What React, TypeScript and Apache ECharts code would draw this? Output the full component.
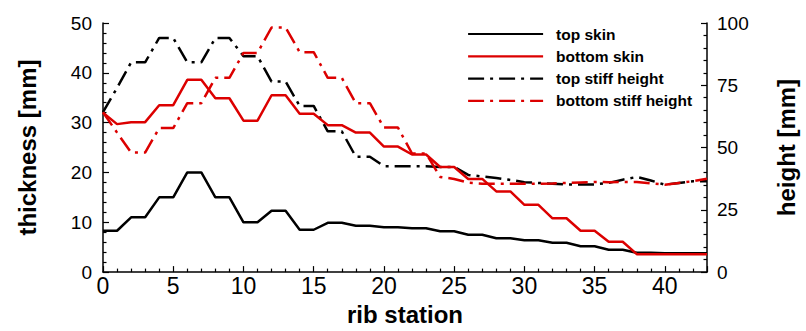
import React, { useEffect, useRef } from "react";
import * as echarts from "echarts";

const stations = [0,1,2,3,4,5,6,7,8,9,10,11,12,13,14,15,16,17,18,19,20,21,22,23,24,25,26,27,28,29,30,31,32,33,34,35,36,37,38,39,40,41,42,43];

const topSkin = [8.3,8.3,11,11,15,15,20,20,15,15,10,10,12.3,12.3,8.5,8.5,9.9,9.9,9.3,9.3,9.0,9.0,8.8,8.8,8.2,8.2,7.5,7.5,6.8,6.8,6.4,6.4,5.9,5.9,5.2,5.2,4.5,4.5,3.9,3.9,3.8,3.8,3.8,3.8];
const bottomSkin = [32,29.7,30.1,30.1,33.5,33.5,38.6,38.6,34.9,34.9,30.4,30.4,35.5,35.5,31.8,31.8,29.5,29.5,28,28,25.2,25.2,23.6,23.6,21.1,21.1,18.7,18.7,16.2,16.2,13.5,13.5,10.8,10.8,8.3,8.3,6.1,6.1,3.6,3.6,3.6,3.6,3.6,3.6];
const topStiffHeight = [64.2,74,84.2,84.2,94,94,84.2,84.2,94,94,86.7,86.7,76.5,76.5,66.7,66.7,56.5,56.5,46.3,46.3,42.5,42.5,42.5,42.5,42.2,42.2,39,38.4,37.8,37,36.1,35.8,35.5,35.2,35.2,35.2,35.8,37.1,38.2,36.8,35.1,35.8,36.5,36.5];
const bottomStiffHeight = [64.2,56,48,48,57.8,57.8,67.8,67.8,78,78,88,88,98.2,98.2,88.3,88.3,78,78,67.8,67.8,58,58,47.6,47.6,38.2,37.4,35.9,35.5,35.5,35.5,35.5,35.5,35.6,35.8,36,36.2,36.1,36.2,36.2,35.6,35.1,35.8,36.5,37.5];

const xTicks = { min: 0, max: 43, interval: 5 };
const leftTicks = { min: 0, max: 50, interval: 10 };
const rightTicks = { min: 0, max: 100, interval: 25 };

const FONT = "'Liberation Sans', Arial, Helvetica, sans-serif";
const RED = "#dc0000";
const DASHDOT = [16, 6, 3, 6];

export default function App() {
  const ref = useRef<HTMLDivElement>(null);
  useEffect(() => {
    if (!ref.current) return;
    const chart = echarts.init(ref.current, undefined, { renderer: "svg" });
    const pair = (arr: number[]) => stations.map((s, i) => [s, arr[i]]);
    const axisLine = { show: true, lineStyle: { color: "#000", width: 1.5 } };
    chart.setOption({
      animation: false,
      backgroundColor: "#fff",
      grid: { left: 103, right: 93, top: 23, bottom: 48, containLabel: false },
      legend: {
        left: 462,
        top: 21,
        orient: "vertical",
        itemWidth: 75,
        itemHeight: 14,
        itemGap: 6.3,
        itemStyle: { color: "rgba(0,0,0,0)", borderWidth: 0, opacity: 0 },
        lineStyle: { width: 2.2 },
        textStyle: { fontFamily: FONT, fontSize: 15.5, fontWeight: "bold", color: "#000", padding: [0, 0, 0, 8] },
        data: ["top skin", "bottom skin", "top stiff height", "bottom stiff height"],
      },
      xAxis: {
        type: "value",
        min: xTicks.min,
        max: xTicks.max,
        interval: xTicks.interval,
        name: "rib station",
        nameLocation: "middle",
        nameGap: 29,
        nameTextStyle: { fontFamily: FONT, fontSize: 24, fontWeight: "bold", color: "#000" },
        axisLine,
        axisTick: { show: true, inside: true, length: 6, lineStyle: { color: "#000", width: 1.2 } },
        minorTick: { show: true, splitNumber: 5, length: 3.5, lineStyle: { color: "#000", width: 1.2 } },
        axisLabel: { fontFamily: FONT, fontSize: 23, color: "#000", margin: 2, showMaxLabel: false },
        splitLine: { show: false },
      },
      yAxis: [
        {
          type: "value",
          position: "left",
          min: leftTicks.min,
          max: leftTicks.max,
          interval: leftTicks.interval,
          name: "thickness [mm]",
          nameLocation: "middle",
          nameGap: 64,
          nameTextStyle: { fontFamily: FONT, fontSize: 24, fontWeight: "bold", color: "#000" },
          axisLine,
          axisTick: { show: true, inside: true, length: 6, lineStyle: { color: "#000", width: 1.2 } },
          minorTick: { show: true, splitNumber: 5, length: 3.5, lineStyle: { color: "#000", width: 1.2 } },
          axisLabel: { fontFamily: FONT, fontSize: 19, color: "#000", margin: 11 },
          splitLine: { show: false },
        },
        {
          type: "value",
          position: "right",
          min: rightTicks.min,
          max: rightTicks.max,
          interval: rightTicks.interval,
          name: "height [mm]",
          nameLocation: "middle",
          nameGap: 67,
          nameRotate: 90,
          nameTextStyle: { fontFamily: FONT, fontSize: 24, fontWeight: "bold", color: "#000" },
          axisLine,
          axisTick: { show: true, inside: true, length: 6, lineStyle: { color: "#000", width: 1.2 } },
          minorTick: { show: true, splitNumber: 5, length: 3.5, lineStyle: { color: "#000", width: 1.2 } },
          axisLabel: { fontFamily: FONT, fontSize: 19, color: "#000", margin: 10 },
          splitLine: { show: false },
        },
      ],
      series: [
        { name: "top skin", type: "line", yAxisIndex: 0, data: pair(topSkin), symbol: "none", lineStyle: { color: "#000", width: 2.5 }, itemStyle: { color: "#000" }, z: 3 },
        { name: "bottom skin", type: "line", yAxisIndex: 0, data: pair(bottomSkin), symbol: "none", lineStyle: { color: RED, width: 2.5 }, itemStyle: { color: RED }, z: 4 },
        { name: "top stiff height", type: "line", yAxisIndex: 1, data: pair(topStiffHeight), symbol: "none", lineStyle: { color: "#000", width: 2.5, type: DASHDOT }, itemStyle: { color: "#000" }, z: 3 },
        { name: "bottom stiff height", type: "line", yAxisIndex: 1, data: pair(bottomStiffHeight), symbol: "none", lineStyle: { color: RED, width: 2.5, type: DASHDOT }, itemStyle: { color: RED }, z: 4 },
      ],
    });
    return () => chart.dispose();
  }, []);
  return <div ref={ref} style={{ position: "fixed", left: 0, top: 0, width: 806, height: 331, background: "#fff" }} />;
}
